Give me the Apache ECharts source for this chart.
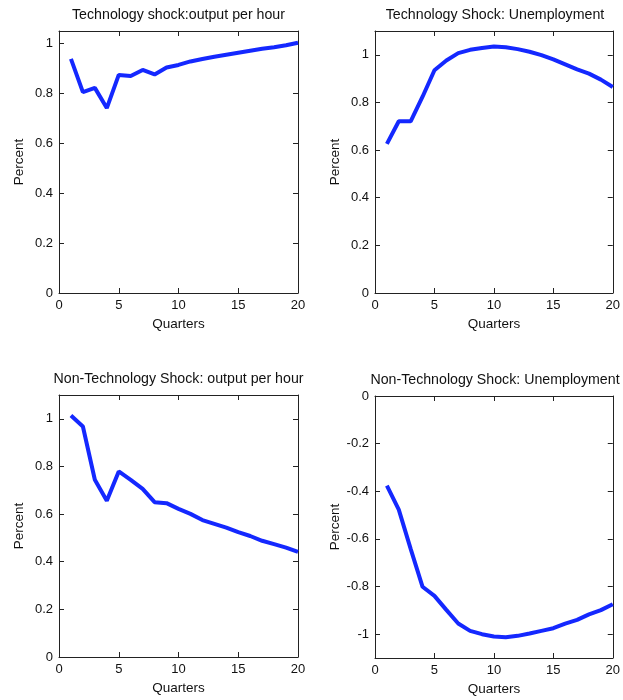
<!DOCTYPE html>
<html>
<head>
<meta charset="utf-8">
<script src="https://cdn.jsdelivr.net/npm/echarts@6/dist/echarts.min.js"></script>
<style>
  body { margin: 0; padding: 0; background: #fff; }
  #main { width: 623px; height: 700px; }
</style>
</head>
<body>
<div id="main"></div>
<script>
// quarters after the shock
var quarters = [1, 2, 3, 4, 5, 6, 7, 8, 9, 10, 11, 12, 13, 14, 15, 16, 17, 18, 19, 20];

// impulse responses
var techOutput = [0.938, 0.805, 0.822, 0.741, 0.874, 0.870, 0.894, 0.876, 0.904, 0.914,
                  0.928, 0.938, 0.947, 0.955, 0.963, 0.971, 0.979, 0.985, 0.993, 1.003];
var techUnemp = [0.626, 0.721, 0.721, 0.824, 0.935, 0.976, 1.007, 1.021, 1.029, 1.035,
                 1.032, 1.024, 1.013, 0.999, 0.981, 0.960, 0.939, 0.921, 0.896, 0.865];
var nonTechOutput = [1.014, 0.968, 0.744, 0.656, 0.779, 0.744, 0.706, 0.650, 0.646, 0.622,
                     0.601, 0.575, 0.559, 0.543, 0.524, 0.508, 0.488, 0.474, 0.459, 0.441];
var nonTechUnemp = [-0.376, -0.477, -0.642, -0.801, -0.839, -0.898, -0.955, -0.986, -1.000, -1.010,
                    -1.013, -1.007, -0.997, -0.986, -0.975, -0.956, -0.940, -0.917, -0.899, -0.874];

// tick labels
var xTicks = [0, 5, 10, 15, 20];
var yTicksPos = [0, 0.2, 0.4, 0.6, 0.8, 1];
var yTicksNeg = [-1, -0.8, -0.6, -0.4, -0.2, 0];

var titles = ['Technology shock:output per hour', 'Technology Shock: Unemployment',
              'Non-Technology Shock: output per hour', 'Non-Technology Shock: Unemployment'];

var panels = [
  { data: techOutput, min: 0, max: 1.05, ticks: yTicksPos, left: 59, top: 31, width: 239, height: 262 },
  { data: techUnemp, min: 0, max: 1.1, ticks: yTicksPos, left: 375, top: 31, width: 240, height: 262 },
  { data: nonTechOutput, min: 0, max: 1.1, ticks: yTicksPos, left: 59, top: 395, width: 239, height: 262 },
  { data: nonTechUnemp, min: -1.1, max: 0, ticks: yTicksNeg, left: 375, top: 396, width: 240, height: 262 }
];

var font = 'Liberation Sans, Arial, sans-serif';
var ink = '#222';

var option = {
  backgroundColor: '#fff',
  animation: false,
  title: [],
  grid: [],
  xAxis: [],
  yAxis: [],
  series: []
};

panels.forEach(function (p, i) {
  option.title.push({
    text: titles[i],
    left: p.left + p.width / 2,
    top: p.top - 23,
    padding: 0,
    textAlign: 'center',
    textStyle: { fontFamily: font, fontSize: 14.2, fontWeight: 'normal', color: '#111' }
  });
  option.grid.push({ left: p.left, top: p.top, width: p.width, height: p.height });

  var tickStyle = { show: true, inside: true, length: 5, lineStyle: { color: ink }, customValues: xTicks };
  // bottom x axis
  option.xAxis.push({
    type: 'value', gridIndex: i, min: 0, max: 20, interval: 5,
    name: 'Quarters', nameLocation: 'middle', nameGap: 24,
    nameTextStyle: { fontFamily: font, fontSize: 13.5, color: '#111' },
    axisLine: { show: true, onZero: false, lineStyle: { color: ink } },
    axisTick: tickStyle,
    axisLabel: { fontFamily: font, fontSize: 13, color: '#111', margin: 6, customValues: xTicks },
    splitLine: { show: false }
  });
  // top x axis (box)
  option.xAxis.push({
    type: 'value', gridIndex: i, position: 'top', min: 0, max: 20, interval: 5,
    axisLine: { show: true, onZero: false, lineStyle: { color: ink } },
    axisTick: tickStyle,
    axisLabel: { show: false },
    splitLine: { show: false }
  });
  // left y axis
  option.yAxis.push({
    type: 'value', gridIndex: i, min: p.min, max: p.max,
    name: 'Percent', nameLocation: 'middle', nameGap: 33, nameRotate: 90,
    nameTextStyle: { fontFamily: font, fontSize: 13.5, color: '#111' },
    axisLine: { show: true, onZero: false, lineStyle: { color: ink } },
    axisTick: { show: true, inside: true, length: 5, lineStyle: { color: ink }, customValues: p.ticks },
    axisLabel: { fontFamily: font, fontSize: 13, color: '#111', margin: 6, customValues: p.ticks },
    splitLine: { show: false }
  });
  // right y axis (box)
  option.yAxis.push({
    type: 'value', gridIndex: i, position: 'right', min: p.min, max: p.max,
    axisLine: { show: true, onZero: false, lineStyle: { color: ink } },
    axisTick: { show: true, inside: true, length: 5, lineStyle: { color: ink }, customValues: p.ticks },
    axisLabel: { show: false },
    splitLine: { show: false }
  });

  option.series.push({
    type: 'line',
    xAxisIndex: i * 2,
    yAxisIndex: i * 2,
    showSymbol: false,
    lineStyle: { color: '#1428ff', width: 4 },
    data: quarters.map(function (q, k) { return [q, p.data[k]]; })
  });
});

var myChart = echarts.init(document.getElementById('main'));
myChart.setOption(option);
</script>
</body>
</html>
